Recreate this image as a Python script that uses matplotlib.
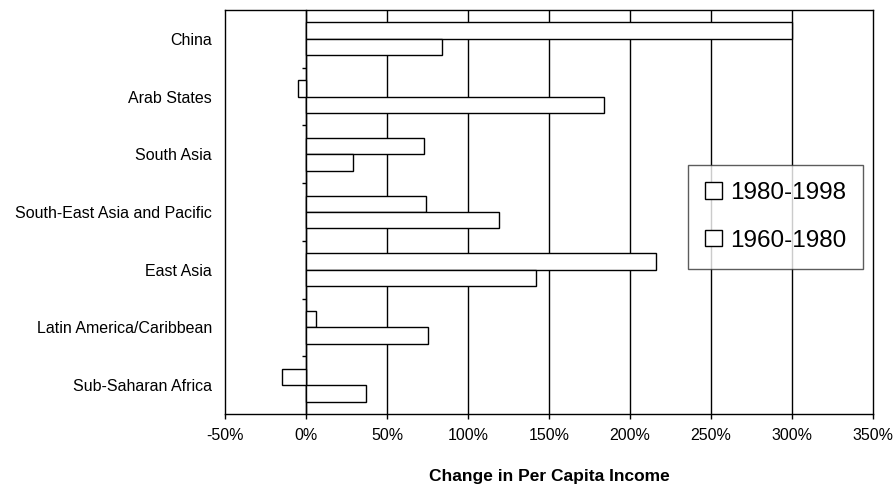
import matplotlib
matplotlib.use("Agg")
import matplotlib.pyplot as plt
from matplotlib.patches import Patch
import numpy as np

plt.rcParams['font.family'] = ['Liberation Sans', 'DejaVu Sans']

regions = ["China", "Arab States", "South Asia", "South-East Asia and Pacific",
           "East Asia", "Latin America/Caribbean", "Sub-Saharan Africa"]
growth_1980_1998 = [300, -5, 73, 74, 216, 6, -15]
growth_1960_1980 = [84, 184, 29, 119, 142, 75, 37]
period_labels = ["1980-1998", "1960-1980"]
x_ticks = [-50, 0, 50, 100, 150, 200, 250, 300, 350]

fig = plt.figure(figsize=(8.96, 4.92), dpi=100)
ax = fig.add_axes([225 / 896, 1 - 414 / 492, (873 - 225) / 896, (414 - 10) / 492])

y = np.arange(len(regions))
h = 0.285
bar_kw = dict(height=h, color="white", edgecolor="black", linewidth=1.0, zorder=3)
ax.barh(y - h / 2, growth_1980_1998, **bar_kw)
ax.barh(y + h / 2, growth_1960_1980, **bar_kw)

ax.set_xlim(-50, 350)
ax.set_ylim(len(regions) - 0.5, -0.5)

ax.set_xticks(x_ticks)
ax.set_xticklabels([f"{t}%" for t in x_ticks])
ax.tick_params(axis="x", direction="out", length=3.8, width=1.0, pad=6,
               labelsize=11.5, colors="black")
ax.set_yticks(y)
ax.set_yticklabels(regions)
ax.tick_params(axis="y", length=0, pad=9.5, labelsize=11.5)

for gx in x_ticks[1:-1]:
    ax.axvline(gx, color="black", linewidth=1.0, zorder=1)

for s in ax.spines.values():
    s.set_color("black")
    s.set_linewidth(1.0)

# vertical axis through 0% with short ticks between the regions
zero_axis = ax.secondary_yaxis((0 - (-50)) / 400)
zero_axis.set_yticks(np.arange(len(regions) - 1) + 0.5)
zero_axis.tick_params(length=3, width=1.0, direction="out", labelleft=False)
zero_axis.spines["left"].set_linewidth(1.0)

ax.set_xlabel("Change in Per Capita Income", fontsize=12.5, fontweight="bold",
              labelpad=19)

handles = [Patch(facecolor="white", edgecolor="black", linewidth=1.0)
           for _ in period_labels]
leg = fig.legend(handles, period_labels, loc="upper left",
                 bbox_to_anchor=(688 / 896, 1 - 165 / 492),
                 bbox_transform=fig.transFigure, fontsize=17.5,
                 handlelength=0.68, handleheight=0.68, handletextpad=0.35,
                 labelspacing=1.05, borderpad=0.7, borderaxespad=0,
                 fancybox=False, frameon=True)
leg.get_frame().set_edgecolor("#333333")
leg.get_frame().set_linewidth(1.0)

fig.savefig("out.png", dpi=100)
